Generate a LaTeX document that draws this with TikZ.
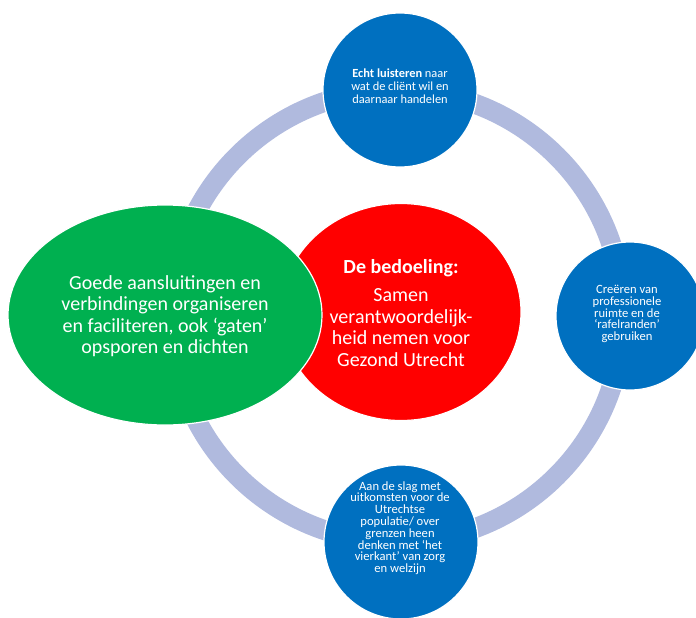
\documentclass[tikz,border=0pt]{standalone}
\usepackage{fontspec}
\setmainfont{Carlito}
\usetikzlibrary{shapes.geometric}
\definecolor{ringblue}{HTML}{B0BADE}
\definecolor{ballblue}{HTML}{0070C0}
\definecolor{leafgreen}{HTML}{00B050}
\definecolor{coreRed}{HTML}{FF0000}
\tikzset{
  bigtext/.style={text=white, align=center, font=\fontsize{20}{21.5}\selectfont},
  smalltext/.style={text=white, align=center, font=\fontsize{12.6}{11.8}\selectfont},
  ball/.style={circle, fill=ballblue, draw=white, line width=1.2pt, inner sep=0pt, minimum size=#1},
  blob/.style={ellipse, draw=white, line width=1.2pt, inner sep=0pt},
}
\begin{document}
\begin{tikzpicture}[x=1pt,y=-1pt]
\useasboundingbox (0,0) rectangle (696,618);
\clip (0,0) rectangle (696,618);

% connecting ring behind everything
\node[circle, draw=ringblue, line width=20pt, minimum size=452pt, inner sep=0pt] (ring) at (397,316) {};

% central idea and the green partner ellipse
\node[blob, fill=coreRed, minimum width=240pt, minimum height=217pt] (core) at (401,312) {};
\node[blob, fill=leafgreen, minimum width=314pt, minimum height=220pt] (green) at (165,315) {};

% the three blue circles on the ring
\node[ball=154pt] (top) at (400,90) {};
\node[ball=148pt] (right) at (630,316) {};
\node[ball=154pt] (bottom) at (401,542) {};

% texts
\node[bigtext] (coretext) at (401,313) {\textbf{De bedoeling:}\\[7pt]Samen\\verantwoordelijk-\\heid nemen voor\\Gezond Utrecht};
\node[bigtext] (greentext) at (165,316) {Goede aansluitingen en\\verbindingen organiseren\\en faciliteren, ook ‘gaten’\\opsporen en dichten};
\node[smalltext, font=\fontsize{12.4}{13}\selectfont] (toptext) at (400,86) {\textbf{Echt luisteren} naar\\wat de cliënt wil en\\daarnaar handelen};
\node[smalltext] (righttext) at (627,314) {Creëren van\\professionele\\ruimte en de\\‘rafelranden’\\gebruiken};
\node[smalltext] (bottomtext) at (400,528) {Aan de slag met\\uitkomsten voor de\\Utrechtse\\populatie/ over\\grenzen heen\\denken met ‘het\\vierkant’ van zorg\\en welzijn};
\end{tikzpicture}
\end{document}
